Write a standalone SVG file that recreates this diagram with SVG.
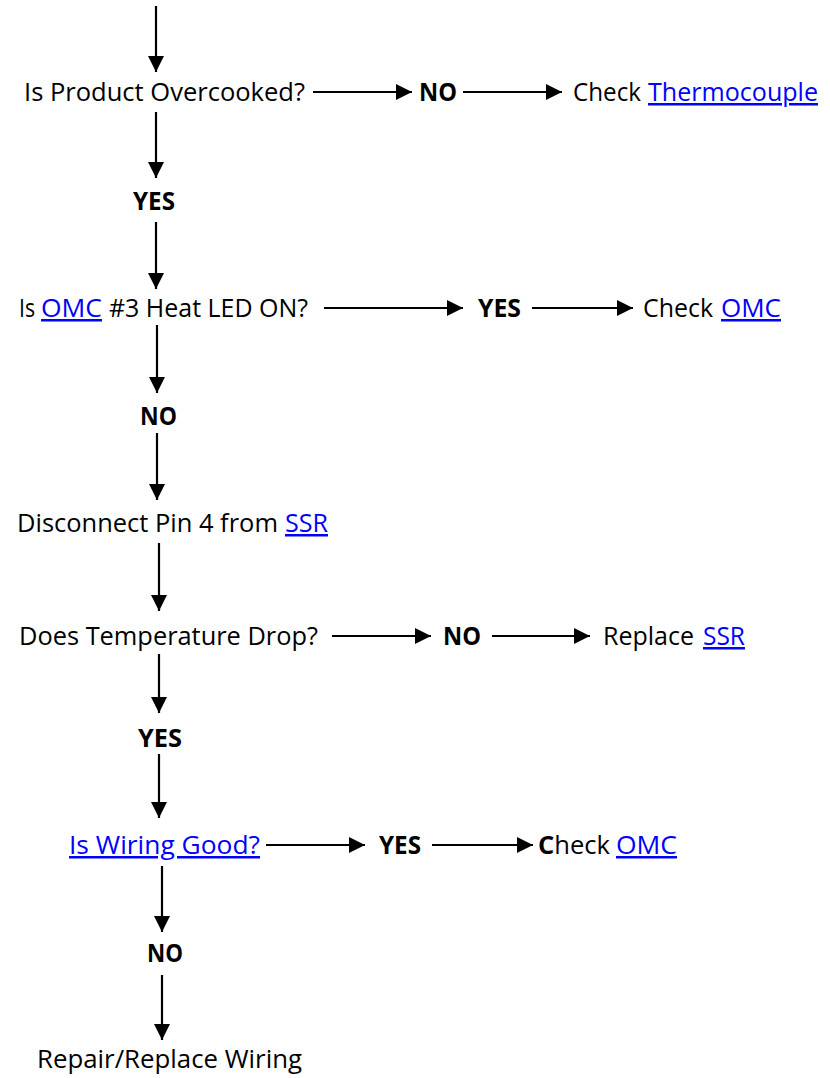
<svg xmlns="http://www.w3.org/2000/svg" width="830" height="1078" viewBox="0 0 830 1078">
<style>
text{font-family:"Open Sans","Liberation Sans",sans-serif;font-size:25px;fill:#000}
.b{font-weight:bold}
.l{fill:#0000ff;text-decoration:underline}
.c line{stroke:#000;stroke-width:2.2;marker-end:url(#ah)}
</style>
<defs>
<marker id="ah" markerUnits="userSpaceOnUse" markerWidth="16" markerHeight="16" refX="15" refY="7.5" orient="auto" viewBox="0 0 15 15">
<path d="M0,0 L15,7.5 L0,15 z" fill="#000"/>
</marker>
</defs>
<rect width="830" height="1078" fill="#fff"/>
<g id="connectors" class="c">
<line x1="156" y1="6" x2="156" y2="72"/>
<line x1="156" y1="112" x2="156" y2="178"/>
<line x1="156" y1="222" x2="156" y2="289"/>
<line x1="157" y1="325" x2="157" y2="393"/>
<line x1="157" y1="433" x2="157" y2="500"/>
<line x1="159" y1="543" x2="159" y2="611"/>
<line x1="159" y1="654" x2="159" y2="713"/>
<line x1="159" y1="754" x2="159" y2="818"/>
<line x1="162" y1="866" x2="162" y2="932"/>
<line x1="162" y1="975" x2="162" y2="1040"/>
<line x1="313" y1="92" x2="412" y2="92"/>
<line x1="463" y1="92" x2="562" y2="92"/>
<line x1="324" y1="308" x2="463" y2="308"/>
<line x1="532" y1="308" x2="633" y2="308"/>
<line x1="332" y1="636" x2="431" y2="636"/>
<line x1="492" y1="636" x2="590" y2="636"/>
<line x1="266" y1="845" x2="365" y2="845"/>
<line x1="432" y1="845" x2="533" y2="845"/>
</g>
<g id="q1">
<text x="24" y="101" textLength="281" lengthAdjust="spacingAndGlyphs">Is Product Overcooked?</text>
</g>
<g id="no1"><text class="b" x="419" y="101" textLength="38" lengthAdjust="spacingAndGlyphs">NO</text></g>
<g id="thermo">
<text x="573" y="101" textLength="68" lengthAdjust="spacingAndGlyphs">Check</text>
<text class="l" x="648" y="101" textLength="170" lengthAdjust="spacingAndGlyphs">Thermocouple</text>
</g>
<g id="yes1"><text class="b" x="133" y="210" textLength="42" lengthAdjust="spacingAndGlyphs">YES</text></g>
<g id="q2">
<text x="19" y="317" textLength="16" lengthAdjust="spacingAndGlyphs">Is</text>
<text class="l" x="41" y="317" textLength="61" lengthAdjust="spacingAndGlyphs">OMC</text>
<text x="109" y="317" textLength="199" lengthAdjust="spacingAndGlyphs">#3 Heat LED ON?</text>
</g>
<g id="yes2"><text class="b" x="478" y="317" textLength="43" lengthAdjust="spacingAndGlyphs">YES</text></g>
<g id="omc1">
<text x="643" y="317" textLength="70" lengthAdjust="spacingAndGlyphs">Check</text>
<text class="l" x="721" y="317" textLength="60" lengthAdjust="spacingAndGlyphs">OMC</text>
</g>
<g id="no2"><text class="b" x="140" y="425" textLength="37" lengthAdjust="spacingAndGlyphs">NO</text></g>
<g id="disc">
<text x="17" y="532" textLength="261" lengthAdjust="spacingAndGlyphs">Disconnect Pin 4 from</text>
<text class="l" x="285" y="532" textLength="43" lengthAdjust="spacingAndGlyphs">SSR</text>
</g>
<g id="q3">
<text x="19" y="645" textLength="299" lengthAdjust="spacingAndGlyphs">Does Temperature Drop?</text>
</g>
<g id="no3"><text class="b" x="443" y="645" textLength="38" lengthAdjust="spacingAndGlyphs">NO</text></g>
<g id="ssr">
<text x="603" y="645" textLength="91" lengthAdjust="spacingAndGlyphs">Replace</text>
<text class="l" x="703" y="645" textLength="42" lengthAdjust="spacingAndGlyphs">SSR</text>
</g>
<g id="yes3"><text class="b" x="138" y="747" textLength="44" lengthAdjust="spacingAndGlyphs">YES</text></g>
<g id="q4">
<text class="l" x="69" y="854" textLength="191" lengthAdjust="spacingAndGlyphs">Is Wiring Good?</text>
</g>
<g id="yes4"><text class="b" x="379" y="854" textLength="42" lengthAdjust="spacingAndGlyphs">YES</text></g>
<g id="omc2">
<text x="538" y="854" textLength="72" lengthAdjust="spacingAndGlyphs"><tspan class="b">C</tspan>heck</text>
<text class="l" x="616" y="854" textLength="61" lengthAdjust="spacingAndGlyphs">OMC</text>
</g>
<g id="no4"><text class="b" x="147" y="962" textLength="36" lengthAdjust="spacingAndGlyphs">NO</text></g>
<g id="repair">
<text x="37" y="1068" textLength="265" lengthAdjust="spacingAndGlyphs">Repair/Replace Wiring</text>
</g>
</svg>
